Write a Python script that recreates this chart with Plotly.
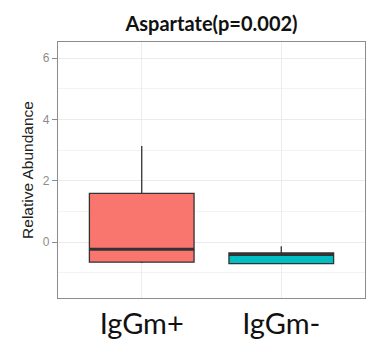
import plotly.graph_objects as go

# Summary statistics per group
groups = ["IgGm+", "IgGm-"]
lower_whisker = [-0.68, -0.70]
q1_vals = [-0.65, -0.70]
median_vals = [-0.23, -0.40]
q3_vals = [1.59, -0.35]
upper_whisker = [3.14, -0.13]
fill_colors = ["#F8766D", "#00BFC4"]

y_ticks = [0, 2, 4, 6]
title_text = "Aspartate(p=0.002)"
y_title = "Relative Abundance"

BOX_WIDTH = 0.75
EDGE = "#333333"

fig = go.Figure()
for i, g in enumerate(groups):
    fig.add_trace(go.Box(
        x=[g],
        q1=[q1_vals[i]],
        median=[median_vals[i]],
        q3=[q3_vals[i]],
        lowerfence=[lower_whisker[i]],
        upperfence=[upper_whisker[i]],
        fillcolor=fill_colors[i],
        line=dict(color=EDGE, width=1.3),
        whiskerwidth=0,
        width=BOX_WIDTH,
        showlegend=False,
        hoverinfo="skip",
    ))

# Thicker median bars, as in ggplot's boxplot
for i, g in enumerate(groups):
    fig.add_shape(
        type="line", xref="x", yref="y",
        x0=i - BOX_WIDTH / 2, x1=i + BOX_WIDTH / 2,
        y0=median_vals[i], y1=median_vals[i],
        line=dict(color=EDGE, width=3),
    )

fig.update_layout(
    width=373, height=347,
    margin=dict(l=58, r=7, t=42, b=35),
    paper_bgcolor="white",
    plot_bgcolor="white",
    title=dict(
        text=title_text, x=0.5, xanchor="center", xref="paper",
        y=1 - 24 / 347, yanchor="middle",
        font=dict(family="Lato", size=20, color="#111111", weight="bold"),
    ),
    xaxis=dict(
        type="category",
        categoryorder="array", categoryarray=groups,
        range=[-0.6, 1.6],
        showgrid=True, gridcolor="#ECECEC", gridwidth=1,
        ticks="", showline=True, linecolor="#8C8C8C", linewidth=1.2, mirror=True,
        tickfont=dict(family="Lato", size=29, color="#111111"),
        zeroline=False,
    ),
    yaxis=dict(
        range=[-1.82, 6.53],
        tickvals=y_ticks,
        showgrid=True, gridcolor="#EBEBEB", gridwidth=1.2,
        minor=dict(dtick=1, tick0=0, showgrid=True, gridcolor="#F3F3F3", gridwidth=0.8, ticklen=0),
        ticks="outside", ticklen=5, tickcolor="#8C8C8C", tickwidth=1,
        showline=True, linecolor="#8C8C8C", linewidth=1.2, mirror=True,
        tickfont=dict(family="Liberation Sans", size=12, color="#8C8C8C"),
        zeroline=False,
        title=dict(text=y_title, standoff=5,
                   font=dict(family="Liberation Sans", size=15.5, color="#222222")),
    ),
)

fig.write_html("out.html")
